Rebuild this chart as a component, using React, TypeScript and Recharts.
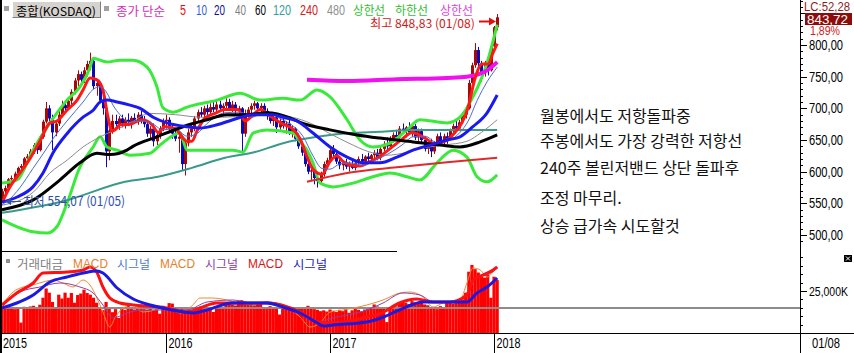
import React from 'react';
import { ComposedChart, Bar, Line, XAxis, YAxis, ReferenceLine } from 'recharts';

type Pt = [number, number];

// weekly candles [open, high, low, close], week 0 = 2015-01-05
const candles: number[][] = [
  [558,573,554,569],[569,578,564,574],[574,590,572,588],[588,594,582,590],[590,600,586,597],
  [597,608,594,606],[606,612,600,609],[609,623,605,621],[621,628,616,624],[624,636,620,632],
  [632,645,628,642],[642,646,628,634],[634,658,632,655],[655,682,652,679],[679,710,676,700],
  [700,705,680,684],[684,690,634,662],[662,680,656,676],[676,700,672,690],[690,712,686,705],
  [705,712,695,700],[700,716,698,712],[712,730,706,726],[726,748,722,744],[744,760,735,754],
  [754,758,738,745],[745,765,740,760],[760,775,750,770],[770,788,760,775],[775,778,730,735],
  [735,745,720,740],[740,742,708,712],[712,718,690,700],[700,705,607,632],[632,672,618,665],
  [665,690,660,680],[680,690,668,675],[675,688,666,684],[684,690,670,676],[676,686,668,682],
  [682,692,672,678],[678,688,668,685],[685,692,676,680],[680,694,674,690],[690,696,676,682],
  [682,688,670,675],[675,680,655,660],[660,672,652,668],[668,676,640,648],[648,662,642,658],
  [658,672,652,668],[668,684,664,680],[680,690,668,682],[682,686,662,668],[668,674,652,660],
  [660,668,648,652],[652,662,630,655],[655,658,602,612],[612,652,594,645],[645,668,640,662],
  [662,675,655,668],[668,688,664,684],[684,698,680,694],[694,702,686,690],[690,704,684,700],
  [700,706,688,694],[694,708,690,702],[702,710,694,698],[698,712,692,706],[706,712,694,700],
  [700,708,690,704],[704,716,698,710],[710,715,696,700],[700,712,694,706],[706,710,690,696],
  [696,704,688,700],[700,702,629,660],[660,698,655,692],[692,702,686,698],[698,708,692,704],
  [704,712,698,708],[708,710,694,700],[700,708,694,704],[704,708,692,696],[696,700,682,690],
  [690,694,676,680],[680,690,672,686],[686,690,661,670],[670,684,665,680],[680,686,668,672],
  [672,680,660,676],[676,682,658,662],[662,672,654,668],[668,670,648,652],[652,660,636,640],
  [640,646,625,630],[630,632,608,612],[612,620,596,600],[600,610,586,602],[602,606,580,590],
  [590,598,575,585],[585,600,580,596],[596,616,592,612],[612,622,608,618],[618,640,616,634],
  [634,642,624,628],[628,632,612,616],[616,622,604,610],[610,618,602,614],[614,620,604,608],
  [608,616,600,612],[612,618,604,606],[606,616,602,614],[614,624,610,620],[620,628,612,616],
  [616,626,612,624],[624,630,616,620],[620,628,612,626],[626,634,620,630],[630,636,618,622],
  [622,640,618,636],[636,648,632,644],[644,654,636,640],[640,656,638,652],[652,662,646,658],
  [658,666,650,654],[654,672,652,668],[668,676,660,664],[664,672,654,670],[670,678,660,662],
  [662,676,655,672],[672,675,650,654],[654,668,648,664],[664,668,645,650],[650,656,632,636],
  [636,650,628,646],[646,652,623,632],[632,648,628,644],[644,660,640,656],[656,662,644,648],
  [648,660,640,656],[656,662,644,652],[652,668,650,664],[664,676,660,672],[672,682,666,668],
  [668,682,664,678],[678,694,676,690],[690,704,684,700],[700,745,698,740],[740,772,736,768],
  [768,803,764,792],[792,797,765,771],[771,775,742,757],[757,775,750,772],[772,780,752,760],
  [760,800,758,798],[798,830,795,828],[828,848.83,823,843.72],
];

// weekly trading value (K)
const volume: number[] = [
  14500,15200,14800,15500,14200,14800,6200,15600,14900,15800,16200,15400,16800,
  21000,26500,24000,18500,15500,22800,20500,24000,21000,23800,18000,22600,23500,25800,23800,22800,21000,18000,14800,13600,18500,14800,12400,
  14200,9000,14500,13800,16500,14600,14000,15000,17000,14200,13800,14400,13600,
  16000,11500,16200,14800,17800,17500,14500,13800,15000,14000,14500,13500,
  15200,14800,15800,14600,15500,14400,12500,15000,16200,15500,16800,17500,17000,16400,
  19000,19500,18500,
  17500,18000,16500,17800,17200,
  15500,14800,16000,15200,14500,11000,15800,15000,14200,13800,15000,14600,
  15400,14800,16200,15000,14200,13800,
  13000,13500,12800,14000,13200,12500,13800,13000,14200,12000,13500,14600,13800,12800,14000,
  15200,14600,17000,15800,15000,14400,6500,15500,16200,15800,
  17800,18500,18000,17200,19000,18200,17500,18800,17000,16500,
  15500,15000,14200,16000,15200,
  18000,18500,17500,19000,18200,
  20000,24000,36500,40500,38000,36000,33500,33000,34800,21000,33500,31500,
];

// moving averages and bands: [week, value]
const ma5: Pt[] = [[0,551],[2.5,576],[5.7,598],[8.9,621],[12,648],[15.2,677],[17.4,680],[20.6,697],[23.8,713],[25.7,729],[27.9,748],[30.1,745],[32,729],[33.6,686],[34.9,664],[35.8,666],[37.4,674],[40.6,675],[44.4,682],[47.6,674],[49.5,662],[51.7,671],[54.9,668],[58.7,648],[60.2,648],[61.8,664],[64.4,685],[67.5,692],[70.7,698],[74.8,698],[77,680],[79.3,688],[81.8,698],[85,688],[89.1,675],[92.3,667],[94.5,652],[96.7,624],[98.6,604],[101.5,596],[104,616],[106.2,625],[108.1,616],[110.3,611],[113.5,609],[116.7,616],[119.8,624],[122.4,634],[126.8,651],[130,662],[134.1,653],[137.3,644],[140.5,648],[143.6,662],[145.8,677],[147.8,702],[150,748],[152.2,770],[154.1,770],[155.7,788],[157,802]];
const ma10: Pt[] = [[0,548],[1.6,553],[5.7,575],[9.8,605],[13,628],[16.2,652],[20.6,680],[25.7,710],[28.9,730],[31.1,734],[33.3,724],[35.2,705],[37.4,690],[40.6,678],[44.4,680],[47.6,676],[51,666],[54.9,668],[58.7,656],[61.8,660],[65,676],[70.7,693],[75.5,694],[79.3,686],[83.4,694],[88.1,684],[92.3,672],[95.4,656],[98.6,625],[101.5,605],[104,604],[107,612],[110.3,614],[114.5,610],[118.3,618],[122.4,628],[126.8,642],[130.3,655],[134.1,656],[137.9,646],[141.1,648],[145.2,662],[147.8,680],[150.6,712],[153.8,742],[157,765]];
const ma20: Pt[] = [[0,552],[4.8,560],[9.8,576],[13,598],[16.2,630],[20.6,660],[25.7,686],[28.9,697],[31.1,710],[33.3,713],[36.5,710],[40.6,705],[43.8,700],[47.9,686],[52.3,677],[58.7,671],[62.8,669],[68.2,674],[73.2,682],[79.6,690],[85.9,690],[89.1,686],[93.5,680],[98.6,661],[104,639],[109.4,623],[114.5,614],[119.8,614],[125.2,623],[130.3,634],[135.7,642],[141.1,650],[145.2,655],[149.3,671],[153.8,693],[157,721]];
const ma40: Pt[] = [[0,547],[10,568],[15.2,598],[20.6,618],[25.7,639],[31.1,655],[35,664],[40,675],[46.9,692],[55,690],[63,686],[70,686],[78,688],[85,690],[92,686],[98,676],[104,660],[110,645],[116,632],[122,626],[128,630],[134,638],[140,642],[147.4,648],[152,662],[157,682]];
const ma60: Pt[] = [[0,540],[9.8,555],[18.4,587],[24.7,614],[30.1,629],[34.2,627],[39.6,634],[41.5,640],[49.1,655],[57.4,671],[65,682],[71.3,690],[77.7,690],[84,693],[91.3,685],[94.5,678],[104,666],[112.6,658],[119.8,653],[130.3,647],[138.9,642],[145.2,639],[151.6,647],[157,658]];
const ma120: Pt[] = [[0,535],[20.6,555],[39,584],[49.5,592],[60.2,606],[70.7,622],[80.2,631],[89.1,645],[99.9,655],[110.3,661],[119.8,663],[130.3,666],[157,666]];
const ma240: Pt[] = [[96.7,584],[109.4,598],[125.2,607],[141.1,615],[157,622]];
const bbUpper: Pt[] = [[0,582],[4.8,587],[9.8,634],[15.2,677],[20.6,713],[24.7,734],[27.9,764],[28.9,779],[33.3,773],[37.4,776],[41.5,776],[46,765],[49.1,734],[51,701],[54.2,694],[58.7,702],[68.2,713],[75.5,724],[81.8,713],[89.1,716],[94.5,713],[99.9,729],[104,718],[109.4,682],[113.5,650],[117.6,639],[123,645],[128.4,666],[132.5,682],[141.1,677],[145.2,686],[149.3,718],[153.8,772],[157,832]];
const bbLower: Pt[] = [[0,524],[4.8,513],[9.8,505],[14.3,503],[17.4,513],[20.6,550],[24.7,607],[28.9,639],[31.1,655],[33.3,639],[36.5,634],[40.6,626],[46.9,629],[50.1,642],[56.4,661],[58.7,634],[62.8,634],[73.2,634],[76.4,631],[79.6,661],[84,666],[92.3,661],[94.5,647],[96.7,634],[98.6,614],[100.8,582],[104.9,576],[111.3,582],[117.6,592],[123,598],[128.4,592],[132.5,587],[137.9,614],[143,634],[147.4,623],[150.6,592],[153.8,584],[157,595]];
const bb240Upper: Pt[] = [[96.7,745],[109.4,743],[125.2,746],[141.1,748],[147.4,750],[153.8,760],[157,773]];

// MACD panel lines: [week, value]
const macdMain: Pt[] = [[0,3],[4.7,15],[9.9,25],[13,35],[20.6,36],[25.8,38],[27.9,41],[30,36],[32,21],[34.2,10],[37.4,5],[41.6,3],[52.3,0],[58.6,-4],[62.8,0],[68,5],[73,5],[84,5],[94.5,-4],[100,-14],[105,-15],[115.7,-9],[121,-4],[126,5],[131.5,9],[136.7,6],[142,6],[147.4,13],[149.4,28],[152.5,33],[155.7,38],[157,41]];
const signalMain: Pt[] = [[0,0],[4.7,5],[9.9,13],[15.2,26],[20.6,31],[25.8,35],[30,37],[32,35],[36.5,20],[41.6,9],[47,3],[52.3,-1],[57.5,-4],[60.7,-5],[65,-2],[73,5],[84,5],[89,1],[94.5,-5],[100,-15],[101.9,-18],[105,-17],[115.7,-14],[121,-9],[126,-2],[133.6,6],[136.7,6],[147.4,6],[150.6,15],[153.8,21],[157,30]];
const macdFast: Pt[] = [[0,3],[3.5,16],[6.7,21],[9.8,23],[13,26],[16.2,28],[19.3,25],[22.5,21],[25.7,28],[27.9,23],[30.1,10],[32,-4],[34.2,-19],[35.8,-10],[38.4,0],[41.5,3],[44.7,-4],[52.3,0],[56.4,-5],[60.5,3],[62.8,10],[66.9,10],[75.5,5],[79.6,3],[84,6],[89.1,3],[94.5,-9],[97.7,-19],[100.8,-15],[104,-4],[108.1,-2],[115.7,3],[120.8,8],[126.2,15],[129.4,16],[133.5,11],[136.7,1],[139.8,5],[145.2,8],[147.4,25],[149.3,40],[151.6,38],[153.8,31],[155.7,36],[157,41]];
const signalFast: Pt[] = [[0,1],[5.7,16],[12,21],[18.4,25],[24.7,21],[28.9,15],[32,3],[35.2,-10],[39.6,-5],[44.7,-2],[50.1,-2],[58.7,-2],[65,6],[73.2,8],[79.6,5],[84,6],[94.5,-4],[99.9,-14],[104.9,-10],[115.7,-2],[120.8,5],[127.1,15],[132.5,13],[136.7,6],[142,6],[147.4,15],[150.6,31],[153.8,33],[157,40]];

// tick labels
const priceLabels = [500, 550, 600, 650, 700, 750, 800];
const yearTicks = [0, 52, 104, 156];
const yearLabels = ['2015', '2016', '2017', '2018'];
const volLabel = { value: 25000, text: '25,000K' };

// texts: text, left x, width, centre y, colour, size, korean?
type T = { t: string; x: number; w: number; y: number; c: string; s: number; k?: boolean };
const headerTexts: T[] = [
  { t: '종합(KOSDAQ)', x: 16, w: 80, y: 10, c: '#000', s: 12, k: true },
  { t: '종가 단순', x: 116, w: 49, y: 10, c: '#d030b8', s: 12, k: true },
  { t: '5', x: 180, w: 6, y: 10, c: '#e01010', s: 14 },
  { t: '10', x: 196, w: 11, y: 10, c: '#3060e0', s: 14 },
  { t: '20', x: 214, w: 11, y: 10, c: '#101098', s: 14 },
  { t: '40', x: 235, w: 11, y: 10, c: '#808080', s: 14 },
  { t: '60', x: 255, w: 11, y: 10, c: '#000000', s: 14 },
  { t: '120', x: 273, w: 18, y: 10, c: '#30a0a0', s: 14 },
  { t: '240', x: 300, w: 18, y: 10, c: '#d02020', s: 14 },
  { t: '480', x: 327, w: 18, y: 10, c: '#909090', s: 14 },
  { t: '상한선', x: 353, w: 32, y: 9, c: '#30c030', s: 12, k: true },
  { t: '하한선', x: 395, w: 33, y: 9, c: '#30c030', s: 12, k: true },
  { t: '상한선', x: 440, w: 33, y: 9, c: '#e040e0', s: 12, k: true },
  { t: '최고 848,83 (01/08)', x: 370, w: 105, y: 22, c: '#d01818', s: 12, k: true },
  { t: '최저 554,07 (01/05)', x: 23, w: 102, y: 200, c: '#3050a8', s: 13, k: true },
  { t: 'LC:52,28', x: 804, w: 46, y: 7, c: '#8c1c1c', s: 12 },
  { t: '843,72', x: 807, w: 41, y: 19, c: '#ffffff', s: 13 },
  { t: '1,89%', x: 810, w: 30, y: 31, c: '#d02020', s: 12 },
  { t: '거래대금', x: 17, w: 46, y: 263, c: '#808080', s: 12, k: true },
  { t: 'MACD', x: 73, w: 35, y: 263, c: '#e8802a', s: 13 },
  { t: '시그널', x: 117, w: 33, y: 263, c: '#4a78c8', s: 12, k: true },
  { t: 'MACD', x: 160, w: 35, y: 263, c: '#e8802a', s: 13 },
  { t: '시그널', x: 205, w: 33, y: 263, c: '#8a3aa0', s: 12, k: true },
  { t: 'MACD', x: 248, w: 35, y: 263, c: '#d81818', s: 13 },
  { t: '시그널', x: 293, w: 34, y: 263, c: '#2020b0', s: 12, k: true },
  { t: '01/08', x: 812, w: 28, y: 343, c: '#000', s: 14 },
];
const noteLines = [
  { t: '월봉에서도 저항돌파중', y: 115 },
  { t: '주봉에서도 가장 강력한 저항선', y: 140 },
  { t: '240주 볼린저밴드 상단 돌파후', y: 167 },
  { t: '조정 마무리.', y: 197 },
  { t: '상승 급가속 시도할것', y: 225 },
];

const LAT = '"Liberation Sans", Arial, sans-serif';
const KOR = '"Noto Sans CJK KR", sans-serif';
const X_DOMAIN: [number, number] = [-0.634, 253.0];
const PRICE_DOMAIN: [number, number] = [479.5, 871.05];
const VOL_DOMAIN: [number, number] = [0, 48810];
const MACD_DOMAIN: [number, number] = [-25, 57];

const priceTicks: number[] = [];
for (let v = 480; v <= 870; v += 10) priceTicks.push(v);
const volTicks: number[] = [];
for (let v = 0; v <= 45000; v += 5000) volTicks.push(v);

const rows = candles.map((c, i) => ({ w: i, o: c[0], h: c[1], l: c[2], c: c[3], range: [c[2], c[1]], vol: volume[i] }));
const pts = (a: Pt[]) => a.map(([w, v]) => ({ w, v }));
const fmt = (v: number) => v.toFixed(2).replace('.', ',');

const Candle = (props: any) => {
  const { x, y, width, height, payload } = props;
  if (!payload) return null;
  const top0 = Math.min(y, y + height);
  const hgt = Math.abs(height);
  const { o, h, l, c } = payload;
  const pix = (v: number) => top0 + ((h - v) / (h - l)) * hgt;
  const cx = Math.round(x + width / 2);
  const up = c >= o;
  const col = up ? '#a80808' : '#0a0ab8';
  const bt = pix(Math.max(o, c));
  const bb = pix(Math.min(o, c));
  return (
    <g>
      <line x1={cx + 0.5} x2={cx + 0.5} y1={top0} y2={top0 + hgt} stroke={col} strokeWidth={1} />
      <rect x={cx - 1} y={bt} width={3} height={Math.max(1, bb - bt)} fill={col} />
    </g>
  );
};

const VolBar = (props: any) => {
  const { x, y, width, height } = props;
  const top0 = Math.min(y, y + height);
  const cx = x + width / 2;
  return <rect x={cx - 1.6} y={top0} width={3.2} height={Math.abs(height)} fill="#ff0000" />;
};

const PriceTick = (props: any) => {
  const { y, payload } = props;
  const v = payload.value;
  const major = v % 50 === 0;
  const yy = Math.round(y) + 0.5;
  return (
    <g>
      <line x1={800} x2={major ? 807 : 803} y1={yy} y2={yy} stroke="#000" strokeWidth={1} />
      {priceLabels.includes(v) && (
        <text x={809} y={y} dominantBaseline="central" fontSize={14} fontFamily={LAT} fill="#000" textLength={34} lengthAdjust="spacingAndGlyphs">{fmt(v)}</text>
      )}
    </g>
  );
};

const VolTick = (props: any) => {
  const { y, payload } = props;
  const v = payload.value;
  const major = v === 0 || v === volLabel.value;
  const yy = Math.round(y) + 0.5;
  return (
    <g>
      <line x1={800} x2={major ? 807 : 803} y1={yy} y2={yy} stroke="#000" strokeWidth={1} />
      {v === volLabel.value && (
        <text x={809} y={y} dominantBaseline="central" fontSize={13} fontFamily={LAT} fill="#000" textLength={39} lengthAdjust="spacingAndGlyphs">{volLabel.text}</text>
      )}
    </g>
  );
};

const YearTick = (props: any) => {
  const { x, payload } = props;
  const idx = yearTicks.indexOf(payload.value);
  const xx = Math.round(x) + 0.5;
  return (
    <g>
      {idx > 0 && <line x1={xx} x2={xx} y1={82} y2={102} stroke="#000" strokeWidth={1} />}
      <text x={idx > 0 ? xx + 2 : 3} y={92} dominantBaseline="central" fontSize={14} fontFamily={LAT} fill="#000" textLength={24} lengthAdjust="spacingAndGlyphs">{yearLabels[idx]}</text>
    </g>
  );
};

const lineProps = { dataKey: 'v', type: 'monotone' as const, dot: false, activeDot: false, isAnimationActive: false };

export default function App() {
  return (
    <div style={{ position: 'absolute', left: 0, top: 0, width: 854, height: 353, background: '#fff', overflow: 'hidden' }}>
      <div style={{ position: 'absolute', left: 0, top: 0 }}>
        <ComposedChart width={854} height={248} data={rows} margin={{ top: 0, right: 0, bottom: 0, left: 0 }}>
          <XAxis dataKey="w" type="number" domain={X_DOMAIN} allowDataOverflow hide />
          <YAxis orientation="right" width={54} domain={PRICE_DOMAIN} allowDataOverflow ticks={priceTicks} interval={0} axisLine={false} tickLine={false} tick={(p: any) => <PriceTick {...p} />} />
          <Line {...lineProps} data={pts(bbUpper)} stroke="#3aea3a" strokeWidth={3} />
          <Line {...lineProps} data={pts(bbLower)} stroke="#3aea3a" strokeWidth={3} />
          <Line {...lineProps} data={pts(bb240Upper)} stroke="#f010f0" strokeWidth={4} />
          <Line {...lineProps} data={pts(ma240)} stroke="#e02a2a" strokeWidth={2} />
          <Line {...lineProps} data={pts(ma120)} stroke="#3a9a8a" strokeWidth={2} />
          <Line {...lineProps} data={pts(ma40)} stroke="#8c8c8c" strokeWidth={1} />
          <Line {...lineProps} data={pts(ma5)} stroke="#ff1818" strokeWidth={3} />
          <Bar dataKey="range" barSize={3} shape={(p: any) => <Candle {...p} />} isAnimationActive={false} />
          <Line {...lineProps} data={pts(ma10)} stroke="#4a6cd4" strokeWidth={1} />
          <Line {...lineProps} data={pts(ma60)} stroke="#000000" strokeWidth={3} />
          <Line {...lineProps} data={pts(ma20)} stroke="#1a1af0" strokeWidth={3} />
        </ComposedChart>
      </div>

      <div style={{ position: 'absolute', left: 0, top: 251 }}>
        <ComposedChart width={854} height={102} data={rows} margin={{ top: 0, right: 0, bottom: 0, left: 0 }}>
          <XAxis dataKey="w" type="number" domain={X_DOMAIN} allowDataOverflow ticks={yearTicks} interval={0} height={20} axisLine={false} tickLine={false} tick={(p: any) => <YearTick {...p} />} />
          <YAxis yAxisId="vol" orientation="right" width={54} domain={VOL_DOMAIN} allowDataOverflow ticks={volTicks} interval={0} axisLine={false} tickLine={false} tick={(p: any) => <VolTick {...p} />} />
          <YAxis yAxisId="macd" hide domain={MACD_DOMAIN} allowDataOverflow />
          <Bar yAxisId="vol" dataKey="vol" barSize={3} shape={(p: any) => <VolBar {...p} />} isAnimationActive={false} />
          <ReferenceLine yAxisId="macd" y={0} stroke="#8c8c8c" strokeWidth={2} />
          <Line {...lineProps} yAxisId="macd" data={pts(macdFast)} stroke="#f08a30" strokeWidth={1} />
          <Line {...lineProps} yAxisId="macd" data={pts(signalFast)} stroke="#9040a8" strokeWidth={1} />
          <Line {...lineProps} yAxisId="macd" data={pts(macdMain)} stroke="#ff1010" strokeWidth={3} />
          <Line {...lineProps} yAxisId="macd" data={pts(signalMain)} stroke="#1a1ae0" strokeWidth={3} />
        </ComposedChart>
      </div>

      {/* frame lines */}
      <div style={{ position: 'absolute', left: 0, top: 0, width: 2, height: 353, background: '#000' }} />
      <div style={{ position: 'absolute', left: 800, top: 0, width: 1, height: 353, background: '#000' }} />
      <div style={{ position: 'absolute', left: 0, top: 333, width: 854, height: 1, background: '#000' }} />
      <div style={{ position: 'absolute', left: 0, top: 251, width: 397, height: 1, background: '#000' }} />

      {/* header boxes */}
      <div style={{ position: 'absolute', left: 4, top: 6, width: 5, height: 5, background: '#a0a0a0' }} />
      <div style={{ position: 'absolute', left: 12, top: 1, width: 87, height: 15, background: '#d6d3ce', borderTop: '1px solid #fff', borderLeft: '1px solid #fff', borderRight: '1px solid #808080', borderBottom: '1px solid #808080' }} />
      <div style={{ position: 'absolute', left: 104, top: 6, width: 5, height: 5, background: '#a0a0a0' }} />
      <div style={{ position: 'absolute', left: 805, top: 13, width: 47, height: 12, background: '#8c0c0c' }} />
      <div style={{ position: 'absolute', left: 6, top: 259, width: 4, height: 4, background: '#909090' }} />
      <div style={{ position: 'absolute', left: 844, top: 255, width: 8, height: 7, background: '#000' }} />

      <svg style={{ position: 'absolute', left: 0, top: 0 }} width={854} height={353}>
        <line x1={479} y1={21.5} x2={491} y2={21.5} stroke="#e01010" strokeWidth={2} />
        <polygon points="496,21.5 489,17.5 489,25.5" fill="#e01010" />
        <line x1={21} y1={201.5} x2={9} y2={201.5} stroke="#3050a8" strokeWidth={1} />
        <polygon points="5,201.5 11,198 11,205" fill="#3050a8" />
        <line x1={846} y1={256.5} x2={850} y2={260.5} stroke="#fff" strokeWidth={1} />
        <line x1={850} y1={256.5} x2={846} y2={260.5} stroke="#fff" strokeWidth={1} />
        {headerTexts.map((h, i) => (
          <text key={i} x={h.x} y={h.y} dominantBaseline="central" fontSize={h.s} fontFamily={h.k ? KOR : LAT} fill={h.c} textLength={h.w} lengthAdjust="spacingAndGlyphs">{h.t}</text>
        ))}
      </svg>

      {noteLines.map((n, i) => (
        <div key={i} style={{ position: 'absolute', left: 540, top: n.y - 8, fontSize: 16, lineHeight: '16px', color: '#111', whiteSpace: 'nowrap', fontFamily: KOR }}>{n.t}</div>
      ))}
    </div>
  );
}
